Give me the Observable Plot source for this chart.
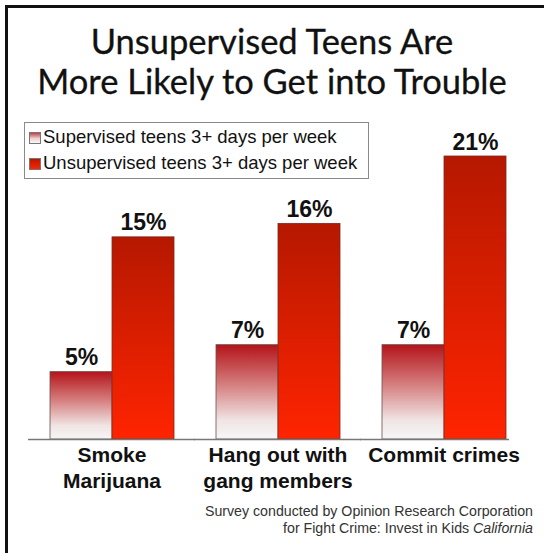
<!DOCTYPE html>
<html>
<head>
<meta charset="utf-8">
<script src="https://cdn.jsdelivr.net/npm/d3@7"></script>
<script src="https://cdn.jsdelivr.net/npm/@observablehq/plot@0.6"></script>
<style>
  html, body { margin: 0; padding: 0; background: #fff; overflow: hidden; }
  #page { position: relative; width: 544px; height: 553px; overflow: hidden; background: #fff; }
  #frame { position: absolute; left: 5px; top: 5px; width: 600px; height: 600px; border: 3px solid #111; box-sizing: border-box; }
  #chart { position: absolute; left: 0; top: 0; }
  #title { position: absolute; left: 0; top: 21px; width: 544px; text-align: center; font-family: Lato, "Open Sans", sans-serif; font-size: 34.5px; line-height: 40px; color: #111; -webkit-text-stroke: 0.3px #111; }
  #legend { position: absolute; left: 24px; top: 122px; width: 345px; height: 57px; border: 1px solid #8a8a8a; box-sizing: border-box; font-family: "Liberation Sans", Arial, sans-serif; font-size: 18.5px; color: #111; }
  .item { position: absolute; left: 4px; height: 22px; line-height: 22px; white-space: nowrap; }
  .sw { display: inline-block; width: 12px; height: 12px; border: 1px solid #777; box-sizing: border-box; vertical-align: -1px; margin-right: 2px; }
  #caption { position: absolute; right: 11px; top: 503px; text-align: right; font-family: "Liberation Sans", Arial, sans-serif; font-size: 14.2px; line-height: 17px; color: #333; }
</style>
</head>
<body>
<div id="page">
  <div id="frame"></div>
  <div id="chart"></div>
  <div id="title">Unsupervised Teens Are<br>More Likely to Get into Trouble</div>
  <div id="legend"></div>
  <div id="caption">Survey conducted by Opinion Research Corporation<br>for Fight Crime: Invest in Kids <i>California</i></div>
</div>
<script>
const categories = ["Smoke Marijuana", "Hang out with gang members", "Commit crimes"];
const categoryLabels = ["Smoke\nMarijuana", "Hang out with\ngang members", "Commit crimes"];
const series = ["Supervised teens 3+ days per week", "Unsupervised teens 3+ days per week"];
const supervisedValues = [5, 7, 7];
const unsupervisedValues = [15, 16, 21];

const data = [];
categories.forEach((c, i) => {
  data.push({category: c, series: series[0], value: supervisedValues[i]});
  data.push({category: c, series: series[1], value: unsupervisedValues[i]});
});
const labelData = categories.map((c, i) => ({category: c, label: categoryLabels[i]}));

const font = "Liberation Sans, Arial, sans-serif";

const chart = Plot.plot({
  width: 544,
  height: 553,
  marginTop: 156,
  marginBottom: 114,
  marginLeft: 48,
  marginRight: 37,
  style: {background: "transparent", overflow: "visible"},
  fx: {domain: categories, paddingInner: 0.25, paddingOuter: 0, axis: null, label: null},
  x: {domain: series, padding: 0, axis: null},
  y: {domain: [0, 21], axis: null},
  marks: [
    Plot.barY(data.filter(d => d.series === series[0]), {fx: "category", x: "series", y: "value", fill: "url(#gradSup)", stroke: "#6a5050", strokeWidth: 0.8}),
    Plot.barY(data.filter(d => d.series === series[1]), {fx: "category", x: "series", y: "value", fill: "url(#gradUnsup)", stroke: "#7a2a20", strokeWidth: 0.8}),
    Plot.ruleY(labelData.slice(0, 2), {fx: "category", y: () => 0, stroke: "#777", strokeWidth: 1.5, insetLeft: -21, insetRight: -21}),
    Plot.ruleY(labelData.slice(2), {fx: "category", y: () => 0, stroke: "#777", strokeWidth: 1.5, insetLeft: -21, insetRight: -3}),
    Plot.text(data, {fx: "category", x: "series", y: "value", text: d => d.value + "%", dy: -7, lineAnchor: "bottom", fontSize: 23, fontWeight: "bold", fontFamily: font, fill: "#111"}),
    Plot.text(labelData, {fx: "category", text: "label", frameAnchor: "bottom", lineAnchor: "top", dy: 5, lineHeight: 1.2, fontSize: 21, fontWeight: "bold", fontFamily: font, fill: "#111"})
  ]
});

const defs = d3.select(chart).insert("defs", ":first-child");
const g1 = defs.append("linearGradient").attr("id", "gradSup").attr("x1", 0).attr("y1", 0).attr("x2", 0).attr("y2", 1);
g1.append("stop").attr("offset", "0%").attr("stop-color", "#b3141a");
g1.append("stop").attr("offset", "45%").attr("stop-color", "#d78585");
g1.append("stop").attr("offset", "80%").attr("stop-color", "#f0e4e4");
g1.append("stop").attr("offset", "100%").attr("stop-color", "#f6f6f6");
const g2 = defs.append("linearGradient").attr("id", "gradUnsup").attr("x1", 0).attr("y1", 0).attr("x2", 0).attr("y2", 1);
g2.append("stop").attr("offset", "0%").attr("stop-color", "#b51800");
g2.append("stop").attr("offset", "100%").attr("stop-color", "#ff2400");

document.getElementById("chart").appendChild(chart);

const legend = document.getElementById("legend");
const swatchCss = [
  "linear-gradient(to bottom, #c04048, #f0d0d0 55%, #f8f8f8)",
  "linear-gradient(to bottom, #b51800, #ff2400)"
];
series.forEach((s, i) => {
  const item = document.createElement("div");
  item.className = "item";
  item.style.top = (3 + i * 26) + "px";
  const sw = document.createElement("span");
  sw.className = "sw";
  sw.style.background = swatchCss[i];
  item.appendChild(sw);
  item.appendChild(document.createTextNode(s));
  legend.appendChild(item);
});
</script>
</body>
</html>
